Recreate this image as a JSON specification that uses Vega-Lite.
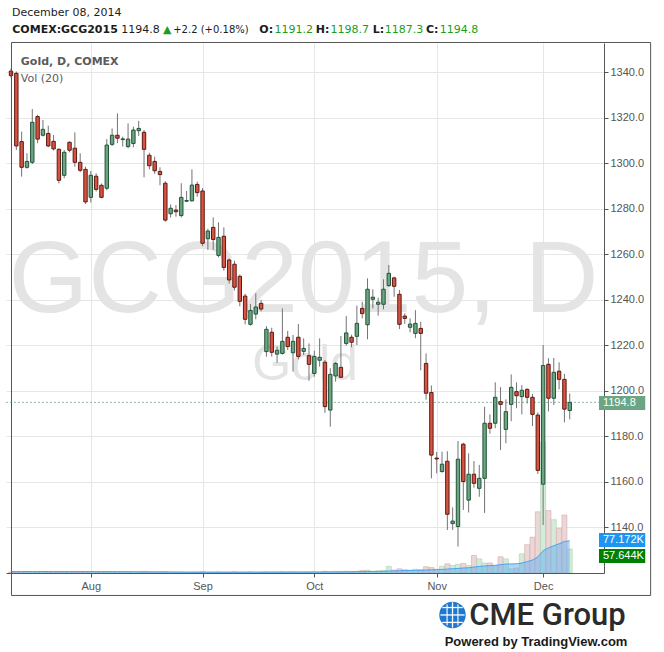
{
"$schema":"https://vega.github.io/schema/vega-lite/v6.json",
"width":598,"height":530,
"autosize":{"type":"none"},
"padding":{"left":6,"top":43,"right":60,"bottom":79},
"background":"white",
"config":{"view":{"stroke":null}},
"datasets":{"bars":[
{"i":0,"o":1340.4,"h":1341.5,"l":1337.5,"c":1338.4,"v":2,"ma":3.6},
{"i":1,"o":1339.4,"h":1340.2,"l":1305.7,"c":1307.5,"v":3,"ma":3.6},
{"i":2,"o":1309.4,"h":1313.8,"l":1294.0,"c":1298.1,"v":2,"ma":3.6},
{"i":3,"o":1298.1,"h":1304.3,"l":1297.5,"c":1300.7,"v":1,"ma":3.6},
{"i":4,"o":1300.3,"h":1323.7,"l":1299.5,"c":1317.9,"v":3,"ma":3.6},
{"i":5,"o":1320.4,"h":1321.2,"l":1308.7,"c":1310.5,"v":2,"ma":3.6},
{"i":6,"o":1312.2,"h":1318.9,"l":1311.6,"c":1314.8,"v":2,"ma":3.6},
{"i":7,"o":1313.0,"h":1316.4,"l":1306.9,"c":1307.5,"v":1,"ma":3.5},
{"i":8,"o":1309.5,"h":1312.3,"l":1305.5,"c":1306.2,"v":2,"ma":3.5},
{"i":9,"o":1306.0,"h":1306.5,"l":1291.0,"c":1292.4,"v":3,"ma":3.5},
{"i":10,"o":1294.6,"h":1305.7,"l":1293.3,"c":1304.7,"v":2,"ma":3.5},
{"i":11,"o":1309.1,"h":1309.5,"l":1304.7,"c":1305.6,"v":1,"ma":3.5},
{"i":12,"o":1306.5,"h":1313.5,"l":1298.4,"c":1300.3,"v":2,"ma":3.5},
{"i":13,"o":1300.3,"h":1304.3,"l":1296.0,"c":1296.8,"v":2,"ma":3.5},
{"i":14,"o":1297.2,"h":1298.4,"l":1282.0,"c":1282.9,"v":3,"ma":3.5},
{"i":15,"o":1284.9,"h":1296.5,"l":1282.6,"c":1294.6,"v":2,"ma":3.4},
{"i":16,"o":1294.2,"h":1295.5,"l":1287.5,"c":1288.4,"v":1,"ma":3.4},
{"i":17,"o":1290.2,"h":1291.0,"l":1284.5,"c":1284.9,"v":2,"ma":3.4},
{"i":18,"o":1288.9,"h":1310.5,"l":1288.0,"c":1307.9,"v":3,"ma":3.4},
{"i":19,"o":1308.2,"h":1315.2,"l":1307.5,"c":1312.2,"v":2,"ma":3.3},
{"i":20,"o":1312.2,"h":1321.8,"l":1308.7,"c":1310.9,"v":2,"ma":3.3},
{"i":21,"o":1310.3,"h":1311.6,"l":1307.2,"c":1310.6,"v":1,"ma":3.2},
{"i":22,"o":1307.2,"h":1317.4,"l":1306.5,"c":1310.5,"v":2,"ma":3.2},
{"i":23,"o":1308.6,"h":1316.0,"l":1306.9,"c":1314.5,"v":1,"ma":3.1},
{"i":24,"o":1314.2,"h":1318.5,"l":1311.9,"c":1315.2,"v":2,"ma":3.0},
{"i":25,"o":1313.5,"h":1314.5,"l":1293.7,"c":1306.0,"v":3,"ma":3.0},
{"i":26,"o":1303.4,"h":1304.5,"l":1297.2,"c":1298.8,"v":2,"ma":2.9},
{"i":27,"o":1300.7,"h":1302.8,"l":1295.2,"c":1296.6,"v":1,"ma":2.8},
{"i":28,"o":1296.3,"h":1298.1,"l":1290.2,"c":1294.9,"v":2,"ma":2.8},
{"i":29,"o":1291.1,"h":1292.0,"l":1274.2,"c":1274.9,"v":3,"ma":2.7},
{"i":30,"o":1277.7,"h":1281.8,"l":1276.0,"c":1280.1,"v":2,"ma":2.6},
{"i":31,"o":1279.3,"h":1281.5,"l":1276.4,"c":1278.6,"v":1,"ma":2.5},
{"i":32,"o":1276.9,"h":1291.1,"l":1276.0,"c":1284.9,"v":2,"ma":2.4},
{"i":33,"o":1283.2,"h":1287.7,"l":1282.8,"c":1283.5,"v":1,"ma":2.3},
{"i":34,"o":1283.4,"h":1297.2,"l":1283.0,"c":1290.3,"v":2,"ma":2.2},
{"i":35,"o":1290.6,"h":1291.8,"l":1285.2,"c":1287.0,"v":2,"ma":2.2},
{"i":36,"o":1287.7,"h":1289.0,"l":1263.5,"c":1264.7,"v":3,"ma":2.1},
{"i":37,"o":1266.7,"h":1271.1,"l":1261.8,"c":1270.1,"v":2,"ma":2.1},
{"i":38,"o":1271.7,"h":1276.1,"l":1261.8,"c":1266.4,"v":2,"ma":2.0},
{"i":39,"o":1259.4,"h":1273.9,"l":1258.5,"c":1267.3,"v":3,"ma":2.0},
{"i":40,"o":1267.8,"h":1271.7,"l":1252.7,"c":1254.1,"v":2,"ma":2.0},
{"i":41,"o":1257.4,"h":1258.1,"l":1247.0,"c":1248.6,"v":2,"ma":2.0},
{"i":42,"o":1255.5,"h":1257.0,"l":1244.0,"c":1245.4,"v":3,"ma":2.0},
{"i":43,"o":1250.2,"h":1251.0,"l":1237.0,"c":1239.2,"v":2,"ma":2.0},
{"i":44,"o":1241.5,"h":1242.5,"l":1229.1,"c":1231.3,"v":2,"ma":2.1},
{"i":45,"o":1229.1,"h":1238.0,"l":1228.5,"c":1235.2,"v":3,"ma":2.1},
{"i":46,"o":1233.6,"h":1242.7,"l":1231.3,"c":1236.7,"v":2,"ma":2.1},
{"i":47,"o":1238.3,"h":1239.8,"l":1234.8,"c":1235.8,"v":2,"ma":2.2},
{"i":48,"o":1217.1,"h":1228.3,"l":1214.9,"c":1226.9,"v":3,"ma":2.2},
{"i":49,"o":1225.6,"h":1227.6,"l":1214.9,"c":1216.8,"v":2,"ma":2.2},
{"i":50,"o":1216.0,"h":1219.3,"l":1212.2,"c":1217.7,"v":2,"ma":2.3},
{"i":51,"o":1216.3,"h":1236.1,"l":1215.8,"c":1221.6,"v":3,"ma":2.3},
{"i":52,"o":1223.4,"h":1226.2,"l":1217.8,"c":1219.3,"v":2,"ma":2.3},
{"i":53,"o":1216.6,"h":1224.4,"l":1208.3,"c":1221.6,"v":3,"ma":2.4},
{"i":54,"o":1223.4,"h":1229.2,"l":1213.7,"c":1215.0,"v":2,"ma":2.4},
{"i":55,"o":1217.2,"h":1222.9,"l":1215.6,"c":1218.5,"v":3,"ma":2.4},
{"i":56,"o":1215.3,"h":1220.7,"l":1204.3,"c":1211.5,"v":2,"ma":2.4},
{"i":57,"o":1207.5,"h":1217.5,"l":1206.1,"c":1215.0,"v":3,"ma":2.5},
{"i":58,"o":1213.3,"h":1222.9,"l":1210.5,"c":1214.6,"v":2,"ma":2.5},
{"i":59,"o":1212.4,"h":1213.4,"l":1190.2,"c":1192.9,"v":4,"ma":2.6},
{"i":60,"o":1191.4,"h":1209.8,"l":1184.1,"c":1207.1,"v":3,"ma":2.6},
{"i":61,"o":1206.4,"h":1212.5,"l":1203.9,"c":1211.9,"v":4,"ma":2.7},
{"i":62,"o":1210.2,"h":1224.0,"l":1205.5,"c":1205.8,"v":3,"ma":2.8},
{"i":63,"o":1220.7,"h":1232.7,"l":1219.7,"c":1225.3,"v":4,"ma":2.9},
{"i":64,"o":1223.4,"h":1224.5,"l":1219.0,"c":1221.2,"v":3,"ma":3.0},
{"i":65,"o":1223.8,"h":1237.3,"l":1220.0,"c":1229.5,"v":4,"ma":3.1},
{"i":66,"o":1236.1,"h":1239.0,"l":1231.7,"c":1233.8,"v":6,"ma":3.3},
{"i":67,"o":1228.9,"h":1249.3,"l":1222.5,"c":1244.5,"v":7,"ma":3.6},
{"i":68,"o":1240.1,"h":1244.5,"l":1236.1,"c":1241.0,"v":4,"ma":3.7},
{"i":69,"o":1237.9,"h":1240.8,"l":1232.9,"c":1238.8,"v":5,"ma":3.9},
{"i":70,"o":1237.9,"h":1248.9,"l":1235.7,"c":1244.5,"v":6,"ma":4.1},
{"i":71,"o":1246.1,"h":1255.2,"l":1245.5,"c":1251.5,"v":16,"ma":4.8},
{"i":72,"o":1249.5,"h":1250.0,"l":1241.2,"c":1245.8,"v":7,"ma":5.0},
{"i":73,"o":1242.3,"h":1244.2,"l":1227.0,"c":1229.1,"v":10,"ma":5.4},
{"i":74,"o":1232.7,"h":1233.9,"l":1229.3,"c":1231.7,"v":8,"ma":5.7},
{"i":75,"o":1227.8,"h":1231.7,"l":1225.6,"c":1229.2,"v":7,"ma":6.0},
{"i":76,"o":1225.1,"h":1235.3,"l":1223.0,"c":1229.5,"v":9,"ma":6.3},
{"i":77,"o":1227.3,"h":1230.2,"l":1208.9,"c":1225.1,"v":8,"ma":6.6},
{"i":78,"o":1211.9,"h":1216.3,"l":1196.0,"c":1198.8,"v":15,"ma":7.2},
{"i":79,"o":1199.1,"h":1202.2,"l":1161.4,"c":1171.6,"v":13,"ma":7.7},
{"i":80,"o":1170.3,"h":1173.0,"l":1163.6,"c":1169.9,"v":9,"ma":8.0},
{"i":81,"o":1164.4,"h":1173.1,"l":1163.8,"c":1167.6,"v":16,"ma":8.6},
{"i":82,"o":1168.9,"h":1173.3,"l":1138.7,"c":1145.6,"v":22,"ma":9.5},
{"i":83,"o":1141.5,"h":1148.6,"l":1138.7,"c":1142.6,"v":18,"ma":10.2},
{"i":84,"o":1140.2,"h":1177.8,"l":1131.4,"c":1169.8,"v":21,"ma":11.0},
{"i":85,"o":1176.4,"h":1177.0,"l":1147.5,"c":1160.0,"v":23,"ma":12.0},
{"i":86,"o":1151.8,"h":1172.4,"l":1146.4,"c":1163.2,"v":18,"ma":12.6},
{"i":87,"o":1163.2,"h":1169.0,"l":1157.3,"c":1159.2,"v":42,"ma":14.4},
{"i":88,"o":1157.0,"h":1167.3,"l":1153.3,"c":1161.4,"v":34,"ma":15.8},
{"i":89,"o":1161.4,"h":1192.9,"l":1146.2,"c":1185.6,"v":24,"ma":16.8},
{"i":90,"o":1185.6,"h":1189.5,"l":1181.0,"c":1183.4,"v":24,"ma":17.8},
{"i":91,"o":1185.6,"h":1203.6,"l":1183.4,"c":1197.0,"v":18,"ma":18.4},
{"i":92,"o":1195.1,"h":1201.5,"l":1173.8,"c":1193.9,"v":39,"ma":20.0},
{"i":93,"o":1182.9,"h":1196.1,"l":1176.8,"c":1190.7,"v":34,"ma":21.5},
{"i":94,"o":1193.9,"h":1207.1,"l":1186.5,"c":1201.4,"v":10,"ma":21.8},
{"i":95,"o":1199.5,"h":1203.6,"l":1192.2,"c":1197.7,"v":12,"ma":22.1},
{"i":96,"o":1197.3,"h":1202.4,"l":1189.5,"c":1200.1,"v":46,"ma":24.0},
{"i":97,"o":1200.5,"h":1200.9,"l":1194.3,"c":1197.0,"v":68,"ma":27.2},
{"i":98,"o":1197.0,"h":1198.5,"l":1184.4,"c":1189.5,"v":86,"ma":31.2},
{"i":99,"o":1189.2,"h":1190.4,"l":1163.3,"c":1164.9,"v":147,"ma":38.5},
{"i":100,"o":1158.8,"h":1220.0,"l":1140.9,"c":1211.0,"v":314,"ma":53.8},
{"i":101,"o":1211.5,"h":1214.2,"l":1190.8,"c":1196.6,"v":150,"ma":60.4},
{"i":102,"o":1196.6,"h":1214.3,"l":1193.6,"c":1208.0,"v":128,"ma":65.6},
{"i":103,"o":1208.5,"h":1212.4,"l":1200.5,"c":1204.9,"v":107,"ma":70.0},
{"i":104,"o":1204.9,"h":1207.3,"l":1186.0,"c":1191.8,"v":139,"ma":75.8},
{"i":105,"o":1191.2,"h":1198.7,"l":1187.3,"c":1194.8,"v":57.644,"ma":77.172}
]},
"data":{"name":"bars"},
"resolve":{"scale":{"y":"independent"}},
"layer":[
{"mark":{"type":"bar","size":5,"clip":true,"strokeWidth":0.6},
 "encoding":{
  "x":{"field":"i","type":"quantitative","scale":{"domain":[0,110.5],"nice":false,"zero":false},
   "axis":{"values":[15,36,57,80,100],"labelExpr":"datum.value == 15 ? 'Aug' : datum.value == 36 ? 'Sep' : datum.value == 57 ? 'Oct' : datum.value == 80 ? 'Nov' : 'Dec'","title":null,"grid":true,"gridColor":"#e6e6e6","tickSize":4,"tickColor":"#555","domainColor":"#555","labelColor":"#555","labelFont":"Liberation Sans","labelFontSize":11,"labelPadding":3}},
  "y":{"field":"v","type":"quantitative","scale":{"domain":[0,1273],"nice":false,"zero":true},"axis":null},
  "fill":{"condition":{"test":"datum.c >= datum.o","value":"#d5ebd9"},"value":"#ecd7d7"},
  "stroke":{"condition":{"test":"datum.c >= datum.o","value":"#a6d3ae"},"value":"#d3a9a9"}
 }},
{"mark":{"type":"area","clip":true,"color":"#5fb0f2","opacity":0.5},
 "encoding":{
  "x":{"field":"i","type":"quantitative"},
  "y":{"field":"ma","type":"quantitative","scale":{"domain":[0,1273],"nice":false,"zero":true},"axis":null}
 }},
{"mark":{"type":"line","clip":true,"color":"#4aa3ee","strokeWidth":1},
 "encoding":{
  "x":{"field":"i","type":"quantitative"},
  "y":{"field":"ma","type":"quantitative","scale":{"domain":[0,1273],"nice":false,"zero":true},"axis":null}
 }},
{"data":{"values":[{}]},"mark":{"type":"text","align":"center","baseline":"alphabetic","font":"Liberation Sans","fontSize":102,"color":"#e4e4e4","text":"GCG2015, D"},
 "encoding":{"x":{"datum":55.0,"type":"quantitative"},"y":{"datum":1234.51,"type":"quantitative","scale":{"domain":[1119.78,1352.75],"nice":false,"zero":false},"axis":null}}},
{"data":{"values":[{}]},"mark":{"type":"text","align":"center","baseline":"alphabetic","font":"Liberation Sans","fontSize":50,"color":"#e4e4e4","text":"Gold"},
 "encoding":{"x":{"datum":55.25,"type":"quantitative"},"y":{"datum":1204.62,"type":"quantitative","scale":{"domain":[1119.78,1352.75],"nice":false,"zero":false},"axis":null}}},
{"data":{"values":[{}]},"mark":{"type":"rule","color":"#8cbca0","strokeDash":[2,2],"strokeWidth":1},
 "encoding":{"y":{"datum":1194.8,"type":"quantitative","scale":{"domain":[1119.78,1352.75],"nice":false,"zero":false},"axis":null}}},
{"mark":{"type":"rule","color":"#737375","strokeWidth":1,"clip":true},
 "encoding":{
  "x":{"field":"i","type":"quantitative"},
  "y":{"field":"l","type":"quantitative","scale":{"domain":[1119.78,1352.75],"nice":false,"zero":false},
   "axis":{"orient":"right","values":[1140,1160,1180,1200,1220,1240,1260,1280,1300,1320,1340],"format":".1f","title":null,"grid":true,"gridColor":"#e6e6e6","tickSize":4,"tickColor":"#555","domainColor":"#555","labelColor":"#555","labelFont":"Liberation Sans","labelFontSize":11,"labelPadding":2}},
  "y2":{"field":"h"}
 }},
{"mark":{"type":"bar","size":3.4,"strokeWidth":1,"clip":true},
 "encoding":{
  "x":{"field":"i","type":"quantitative"},
  "y":{"field":"o","type":"quantitative","scale":{"domain":[1119.78,1352.75],"nice":false,"zero":false},"axis":null},
  "y2":{"field":"c"},
  "fill":{"condition":{"test":"datum.c >= datum.o","value":"#6ba583"},"value":"#d75442"},
  "stroke":{"condition":{"test":"datum.c >= datum.o","value":"#225437"},"value":"#5b1a13"}
 }},
{"data":{"values":[{}]},"mark":{"type":"rect","color":"#6ba583"},
 "encoding":{"x":{"datum":110.5,"type":"quantitative"},"x2":{"datum":119.19},"y":{"datum":1197.59,"type":"quantitative","scale":{"domain":[1119.78,1352.75],"nice":false,"zero":false},"axis":null},"y2":{"datum":1191.44}}},
{"data":{"values":[{}]},"mark":{"type":"text","align":"left","baseline":"middle","font":"Liberation Sans","fontSize":11,"color":"white","text":"1194.8"},
 "encoding":{"x":{"datum":111.24,"type":"quantitative"},"y":{"datum":1194.6,"type":"quantitative","scale":{"domain":[1119.78,1352.75],"nice":false,"zero":false},"axis":null}}},
{"data":{"values":[{}]},"mark":{"type":"rect","color":"#1e96f0"},
 "encoding":{"x":{"datum":110.5,"type":"quantitative"},"x2":{"datum":119.19},"y":{"datum":1137.38,"type":"quantitative","scale":{"domain":[1119.78,1352.75],"nice":false,"zero":false},"axis":null},"y2":{"datum":1131.22}}},
{"data":{"values":[{}]},"mark":{"type":"text","align":"left","baseline":"middle","font":"Liberation Sans","fontSize":11,"color":"white","text":"77.172K"},
 "encoding":{"x":{"datum":111.24,"type":"quantitative"},"y":{"datum":1134.2,"type":"quantitative","scale":{"domain":[1119.78,1352.75],"nice":false,"zero":false},"axis":null}}},
{"data":{"values":[{}]},"mark":{"type":"rect","color":"#008000"},
 "encoding":{"x":{"datum":110.5,"type":"quantitative"},"x2":{"datum":119.19},"y":{"datum":1130.35,"type":"quantitative","scale":{"domain":[1119.78,1352.75],"nice":false,"zero":false},"axis":null},"y2":{"datum":1124.19}}},
{"data":{"values":[{}]},"mark":{"type":"text","align":"left","baseline":"middle","font":"Liberation Sans","fontSize":11,"color":"white","text":"57.644K"},
 "encoding":{"x":{"datum":111.24,"type":"quantitative"},"y":{"datum":1127.2,"type":"quantitative","scale":{"domain":[1119.78,1352.75],"nice":false,"zero":false},"axis":null}}},
{"data":{"values":[{}]},"mark":{"type":"rect","filled":false,"stroke":"#555","strokeWidth":1},
 "encoding":{"x":{"datum":0.092,"type":"quantitative"},"x2":{"datum":120.2},"y":{"datum":1352.97,"type":"quantitative","scale":{"domain":[1119.78,1352.75],"nice":false,"zero":false},"axis":null},"y2":{"datum":1109.91}}},
{"data":{"values":[{}]},"mark":{"type":"text","align":"left","baseline":"alphabetic","font":"DejaVu Sans","fontSize":11,"color":"#1c1c1c","text":"December 08, 2014"},
 "encoding":{"x":{"datum":0.185,"type":"quantitative"},"y":{"datum":1364.62,"type":"quantitative","scale":{"domain":[1119.78,1352.75],"nice":false,"zero":false},"axis":null}}},
{"data":{"values":[{}]},"mark":{"type":"text","align":"left","baseline":"alphabetic","font":"DejaVu Sans","fontSize":11,"fontWeight":"bold","color":"#1c1c1c","text":"COMEX:GCG2015"},
 "encoding":{"x":{"datum":0.24,"type":"quantitative"},"y":{"datum":1356.93,"type":"quantitative","scale":{"domain":[1119.78,1352.75],"nice":false,"zero":false},"axis":null}}},
{"data":{"values":[{}]},"mark":{"type":"text","align":"left","baseline":"alphabetic","font":"DejaVu Sans","fontSize":11,"color":"#1c1c1c","text":"1194.8"},
 "encoding":{"x":{"datum":20.7,"type":"quantitative"},"y":{"datum":1356.93,"type":"quantitative","scale":{"domain":[1119.78,1352.75],"nice":false,"zero":false},"axis":null}}},
{"data":{"values":[{}]},"mark":{"type":"text","align":"left","baseline":"alphabetic","font":"DejaVu Sans","fontSize":11,"color":"#1e9e1e","text":"▲"},
 "encoding":{"x":{"datum":28.55,"type":"quantitative"},"y":{"datum":1356.93,"type":"quantitative","scale":{"domain":[1119.78,1352.75],"nice":false,"zero":false},"axis":null}}},
{"data":{"values":[{}]},"mark":{"type":"text","align":"left","baseline":"alphabetic","font":"DejaVu Sans","fontSize":10,"color":"#1c1c1c","text":"+2.2 (+0.18%)"},
 "encoding":{"x":{"datum":30.49,"type":"quantitative"},"y":{"datum":1356.93,"type":"quantitative","scale":{"domain":[1119.78,1352.75],"nice":false,"zero":false},"axis":null}}},
{"data":{"values":[{}]},"mark":{"type":"text","align":"left","baseline":"alphabetic","font":"DejaVu Sans","fontSize":11,"fontWeight":"bold","color":"#1c1c1c","text":"O:"},
 "encoding":{"x":{"datum":46.67,"type":"quantitative"},"y":{"datum":1356.93,"type":"quantitative","scale":{"domain":[1119.78,1352.75],"nice":false,"zero":false},"axis":null}}},
{"data":{"values":[{}]},"mark":{"type":"text","align":"left","baseline":"alphabetic","font":"DejaVu Sans","fontSize":11,"color":"#1a9e1a","text":"1191.2"},
 "encoding":{"x":{"datum":49.52,"type":"quantitative"},"y":{"datum":1356.93,"type":"quantitative","scale":{"domain":[1119.78,1352.75],"nice":false,"zero":false},"axis":null}}},
{"data":{"values":[{}]},"mark":{"type":"text","align":"left","baseline":"alphabetic","font":"DejaVu Sans","fontSize":11,"fontWeight":"bold","color":"#1c1c1c","text":"H:"},
 "encoding":{"x":{"datum":57.28,"type":"quantitative"},"y":{"datum":1356.93,"type":"quantitative","scale":{"domain":[1119.78,1352.75],"nice":false,"zero":false},"axis":null}}},
{"data":{"values":[{}]},"mark":{"type":"text","align":"left","baseline":"alphabetic","font":"DejaVu Sans","fontSize":11,"color":"#1a9e1a","text":"1198.7"},
 "encoding":{"x":{"datum":60.05,"type":"quantitative"},"y":{"datum":1356.93,"type":"quantitative","scale":{"domain":[1119.78,1352.75],"nice":false,"zero":false},"axis":null}}},
{"data":{"values":[{}]},"mark":{"type":"text","align":"left","baseline":"alphabetic","font":"DejaVu Sans","fontSize":11,"fontWeight":"bold","color":"#1c1c1c","text":"L:"},
 "encoding":{"x":{"datum":68.0,"type":"quantitative"},"y":{"datum":1356.93,"type":"quantitative","scale":{"domain":[1119.78,1352.75],"nice":false,"zero":false},"axis":null}}},
{"data":{"values":[{}]},"mark":{"type":"text","align":"left","baseline":"alphabetic","font":"DejaVu Sans","fontSize":11,"color":"#1a9e1a","text":"1187.3"},
 "encoding":{"x":{"datum":70.22,"type":"quantitative"},"y":{"datum":1356.93,"type":"quantitative","scale":{"domain":[1119.78,1352.75],"nice":false,"zero":false},"axis":null}}},
{"data":{"values":[{}]},"mark":{"type":"text","align":"left","baseline":"alphabetic","font":"DejaVu Sans","fontSize":11,"fontWeight":"bold","color":"#1c1c1c","text":"C:"},
 "encoding":{"x":{"datum":77.98,"type":"quantitative"},"y":{"datum":1356.93,"type":"quantitative","scale":{"domain":[1119.78,1352.75],"nice":false,"zero":false},"axis":null}}},
{"data":{"values":[{}]},"mark":{"type":"text","align":"left","baseline":"alphabetic","font":"DejaVu Sans","fontSize":11,"color":"#1a9e1a","text":"1194.8"},
 "encoding":{"x":{"datum":80.57,"type":"quantitative"},"y":{"datum":1356.93,"type":"quantitative","scale":{"domain":[1119.78,1352.75],"nice":false,"zero":false},"axis":null}}},
{"data":{"values":[{}]},"mark":{"type":"text","align":"left","baseline":"alphabetic","font":"DejaVu Sans","fontSize":11,"fontWeight":"bold","color":"#5b5b5b","text":"Gold, D, COMEX"},
 "encoding":{"x":{"datum":1.85,"type":"quantitative"},"y":{"datum":1343.08,"type":"quantitative","scale":{"domain":[1119.78,1352.75],"nice":false,"zero":false},"axis":null}}},
{"data":{"values":[{}]},"mark":{"type":"text","align":"left","baseline":"alphabetic","font":"DejaVu Sans","fontSize":11,"color":"#5b5b5b","text":"Vol (20)"},
 "encoding":{"x":{"datum":1.85,"type":"quantitative"},"y":{"datum":1335.6,"type":"quantitative","scale":{"domain":[1119.78,1352.75],"nice":false,"zero":false},"axis":null}}},
{"data":{"values":[{}]},"mark":{"type":"point","shape":"circle","filled":true,"size":700,"color":"#1f78cf","opacity":1},
 "encoding":{"x":{"datum":82.97,"type":"quantitative"},"y":{"datum":1101.33,"type":"quantitative","scale":{"domain":[1119.78,1352.75],"nice":false,"zero":false},"axis":null}}},
{"data":{"values":[{}]},"mark":{"type":"rule","color":"white","strokeWidth":1.3},
 "encoding":{"x":{"datum":80.7,"type":"quantitative"},"x2":{"datum":85.24},"y":{"datum":1101.33,"type":"quantitative","scale":{"domain":[1119.78,1352.75],"nice":false,"zero":false},"axis":null}}},
{"data":{"values":[{}]},"mark":{"type":"rule","color":"white","strokeWidth":1.3},
 "encoding":{"x":{"datum":81.05,"type":"quantitative"},"x2":{"datum":84.89},"y":{"datum":1104.6,"type":"quantitative","scale":{"domain":[1119.78,1352.75],"nice":false,"zero":false},"axis":null}}},
{"data":{"values":[{}]},"mark":{"type":"rule","color":"white","strokeWidth":1.3},
 "encoding":{"x":{"datum":81.05,"type":"quantitative"},"x2":{"datum":84.89},"y":{"datum":1098.06,"type":"quantitative","scale":{"domain":[1119.78,1352.75],"nice":false,"zero":false},"axis":null}}},
{"data":{"values":[{}]},"mark":{"type":"rule","color":"white","strokeWidth":1.3},
 "encoding":{"x":{"datum":82.97,"type":"quantitative"},"y":{"datum":1106.9,"type":"quantitative","scale":{"domain":[1119.78,1352.75],"nice":false,"zero":false},"axis":null},"y2":{"datum":1095.76}}},
{"data":{"values":[{}]},"mark":{"type":"rule","color":"white","strokeWidth":1.1},
 "encoding":{"x":{"datum":81.95,"type":"quantitative"},"y":{"datum":1106.0,"type":"quantitative","scale":{"domain":[1119.78,1352.75],"nice":false,"zero":false},"axis":null},"y2":{"datum":1096.66}}},
{"data":{"values":[{}]},"mark":{"type":"rule","color":"white","strokeWidth":1.1},
 "encoding":{"x":{"datum":83.99,"type":"quantitative"},"y":{"datum":1106.0,"type":"quantitative","scale":{"domain":[1119.78,1352.75],"nice":false,"zero":false},"axis":null},"y2":{"datum":1096.66}}},
{"data":{"values":[{}]},"mark":{"type":"text","align":"left","baseline":"alphabetic","font":"Roboto","fontSize":31,"fontWeight":500,"color":"#2b2b2b","text":"CME Group"},
 "encoding":{"x":{"datum":86.11,"type":"quantitative"},"y":{"datum":1096.92,"type":"quantitative","scale":{"domain":[1119.78,1352.75],"nice":false,"zero":false},"axis":null}}},
{"data":{"values":[{}]},"mark":{"type":"text","align":"center","baseline":"alphabetic","font":"Liberation Sans","fontSize":13,"fontWeight":"bold","color":"#1a1a1a","text":"Powered by TradingView.com"},
 "encoding":{"x":{"datum":98.67,"type":"quantitative"},"y":{"datum":1087.66,"type":"quantitative","scale":{"domain":[1119.78,1352.75],"nice":false,"zero":false},"axis":null}}}
]
}
